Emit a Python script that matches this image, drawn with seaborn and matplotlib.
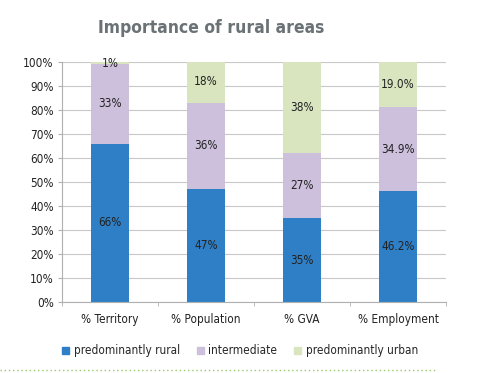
import matplotlib
matplotlib.use("Agg")
import matplotlib.pyplot as plt
import seaborn as sns
import pandas as pd
import numpy as np
from matplotlib.lines import Line2D
from matplotlib.ticker import FixedLocator, PercentFormatter

categories = ["% Territory", "% Population", "% GVA", "% Employment"]
rural = [66, 47, 35, 46.2]
intermediate = [33, 36, 27, 34.9]
urban = [1, 18, 38, 19.0]
rural_labels = ["66%", "47%", "35%", "46.2%"]
inter_labels = ["33%", "36%", "27%", "34.9%"]
urban_labels = ["1%", "18%", "38%", "19.0%"]
series_names = ["predominantly rural", "intermediate", "predominantly urban"]
yticks = [0, 10, 20, 30, 40, 50, 60, 70, 80, 90, 100]

sns.set_style("white")
plt.rcParams['font.family'] = ['DejaVu Sans']
plt.rcParams['font.stretch'] = 'condensed'

colors = ["#2f7fc6", "#cdc0dc", "#d8e5bf"]

fig = plt.figure(figsize=(5, 3.73), dpi=100)
ax = fig.add_axes([0.124, 0.19, 0.768, 0.644])

df = pd.DataFrame({"cat": categories, "rural": rural,
                   "inter": intermediate, "urban": urban})
bottom_inter = np.array(rural)
bottom_urban = np.array(rural) + np.array(intermediate)

sns.barplot(data=df, x="cat", y="rural", color=colors[0], width=0.4,
            ax=ax, saturation=1, linewidth=0)
sns.barplot(data=df, x="cat", y="inter", color=colors[1], width=0.4,
            ax=ax, saturation=1, bottom=bottom_inter, linewidth=0)
sns.barplot(data=df, x="cat", y="urban", color=colors[2], width=0.4,
            ax=ax, saturation=1, bottom=bottom_urban, linewidth=0)
if ax.get_legend() is not None:
    ax.get_legend().remove()

for i in range(len(categories)):
    ax.text(i, rural[i] / 2, rural_labels[i], ha="center", va="center",
            fontsize=8.5, color="#222222")
    ax.text(i, rural[i] + intermediate[i] / 2, inter_labels[i], ha="center",
            va="center", fontsize=8.5, color="#222222")
    yc = min(bottom_urban[i] + urban[i] / 2, 99.6)
    ax.text(i, yc, urban_labels[i], ha="center", va="center",
            fontsize=8.5, color="#222222")

ax.set_ylim(0, 100)
ax.set_xlim(-0.5, 3.5)
ax.set_yticks(yticks)
ax.yaxis.set_major_formatter(PercentFormatter(decimals=0))
ax.set_xlabel("")
ax.set_ylabel("")
ax.yaxis.grid(True, color="#c8c8c8", linewidth=0.8)
ax.set_axisbelow(True)
for s in ["top", "right"]:
    ax.spines[s].set_visible(False)
for s in ["left", "bottom"]:
    ax.spines[s].set_color("#b0b0b0")
    ax.spines[s].set_linewidth(0.8)
ax.tick_params(axis="y", labelsize=8.5, length=3, color="#b0b0b0", left=True,
               pad=3, labelcolor="#222222")
ax.tick_params(axis="x", labelsize=8.5, length=0, pad=8, labelcolor="#222222")
ax.xaxis.set_minor_locator(FixedLocator([-0.5, 0.5, 1.5, 2.5, 3.5]))
ax.tick_params(axis="x", which="minor", length=3, color="#b0b0b0", bottom=True)

handles = [plt.Rectangle((0, 0), 1, 1, color=c) for c in colors]
fig.legend(handles, series_names, loc="center", bbox_to_anchor=(0.48, 0.059),
           ncol=3, frameon=False, fontsize=8.5, handlelength=0.6, handleheight=0.6,
           columnspacing=1.4, handletextpad=0.4)

fig.text(0.422, 0.925, "Importance of rural areas", ha="center", va="center",
         fontsize=12.5, fontweight="bold", fontstretch="condensed", color="#6b7276",
         family="DejaVu Sans")

fig.add_artist(Line2D([0.0, 0.87], [0.008, 0.008], transform=fig.transFigure,
                      color="#9cc96b", linewidth=1, linestyle=(0, (1, 2))))

fig.savefig("out.png", dpi=100)
